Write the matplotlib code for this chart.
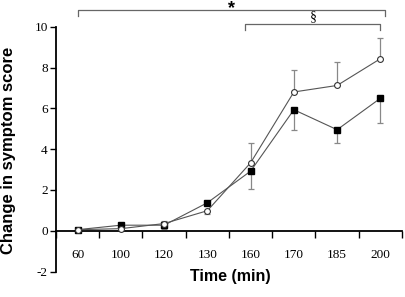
import matplotlib.pyplot as plt
import numpy as np

times = ["60", "100", "120", "130", "160", "170", "185", "200"]
open_mean = [0.05, 0.1, 0.35, 0.98, 3.33, 6.8, 7.12, 8.43]
open_err_up = [0.0, 0.0, 0.15, 0.0, 0.98, 1.06, 1.14, 1.01]
open_err_down = [0.0, 0.0, 0.0, 0.15, 0.0, 0.0, 0.0, 0.0]
filled_mean = [0.05, 0.27, 0.27, 1.37, 2.92, 5.93, 4.95, 6.49]
filled_err_down = [0.0, 0.0, 0.2, 0.0, 0.9, 1.01, 0.65, 1.19]

x = np.arange(len(times))
line_col = "#555555"
err_col = "#888888"

fig = plt.figure(figsize=(4.06, 2.97), dpi=100)
ax = fig.add_axes([56 / 406, 1 - 271.5 / 297, 346 / 406, (271.5 - 26.7) / 297])

ax.errorbar(x, filled_mean, yerr=[filled_err_down, np.zeros(len(x))], fmt="none",
            ecolor=err_col, elinewidth=0.9, capsize=2, capthick=0.9, zorder=2)
ax.errorbar(x, open_mean, yerr=[open_err_down, open_err_up], fmt="none",
            ecolor=err_col, elinewidth=0.9, capsize=2, capthick=0.9, zorder=2)
ax.plot(x, filled_mean, color=line_col, lw=0.8, marker="s", ms=4.3,
        mfc="black", mec="black", zorder=3)
ax.plot(x, open_mean, color=line_col, lw=0.8, marker="o", ms=4.2,
        mfc="white", mec="#333333", mew=0.8, zorder=4)

ax.set_xlim(-0.5, 7.5)
ax.set_ylim(-2, 10)
ax.spines["top"].set_visible(False)
ax.spines["right"].set_visible(False)
ax.spines["bottom"].set_position(("data", 0))
ax.spines["bottom"].set_linewidth(1.3)
ax.spines["left"].set_linewidth(1.3)

ax.set_yticks([-2, 0, 2, 4, 6, 8, 10])
ax.set_yticklabels(["-2", "0", "2", "4", "6", "8", "10"], family="Liberation Serif", fontsize=9.5)
ax.tick_params(axis="y", direction="out", length=4, width=1, pad=2)

ax.set_xticks(np.arange(len(times) + 1) - 0.5)
ax.set_xticklabels([])
ax.tick_params(axis="x", which="major", direction="out", length=5, width=1)
ax.set_xticks(x, minor=True)
ax.set_xticklabels(times, minor=True, family="Liberation Serif", fontsize=9.5)
ax.tick_params(axis="x", which="minor", length=0, pad=13)

fig.text(9 / 406, 1 - 150 / 297, "Change in symptom score", family="Liberation Sans",
         fontweight="bold", fontsize=12, rotation=90, ha="center", va="center")
fig.text(230 / 406, 1 - 277 / 297, "Time (min)", family="Liberation Sans", fontweight="bold",
         fontsize=11.5, ha="center", va="center")

# significance brackets
bc = "#666666"
ax.plot([0, 0, 7.1, 7.1], [10.52, 10.83, 10.83, 10.52], color=bc, lw=0.9, clip_on=False)
ax.text(3.56, 10.68, "*", ha="center", va="baseline", fontsize=13, family="Liberation Sans",
        fontweight="bold")
ax.plot([3.87, 3.87, 7.0, 7.0], [9.82, 10.11, 10.11, 9.82], color=bc, lw=0.9, clip_on=False)
ax.text(5.45, 10.15, "§", ha="center", va="bottom", fontsize=10, family="Liberation Serif")

fig.savefig("out.png", dpi=100)
